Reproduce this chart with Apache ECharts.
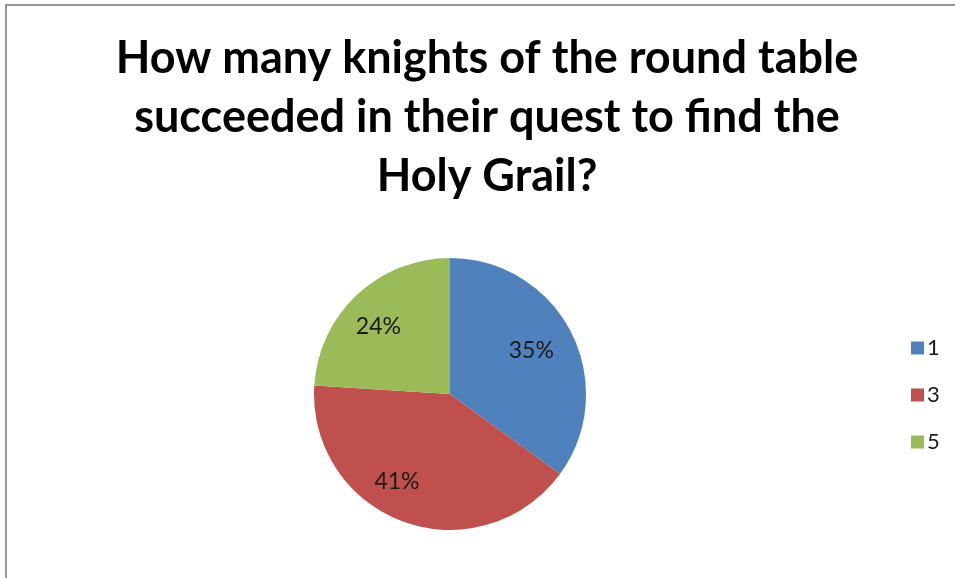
<!DOCTYPE html>
<html><head><meta charset="utf-8">
<script src="https://cdn.jsdelivr.net/npm/echarts@6/dist/echarts.min.js"></script>
<style>html,body{margin:0;padding:0;background:#fff}#c{width:955px;height:578px}</style>
</head><body><div id="c"></div>
<script>
const titleText = "How many knights of the round table\nsucceeded in their quest to find the\nHoly Grail?";
const categories = ["1", "3", "5"];
const values = [35, 41, 24];
const colors = ["#4F81BD", "#C0504D", "#9BBB59"];
const labelShift = [[18, -11], [-29, 21], [-23, -16]];

const chart = echarts.init(document.getElementById('c'), null, {renderer: 'canvas'});
chart.setOption({
  animation: false,
  backgroundColor: '#fff',
  graphic: [{
    type: 'rect', shape: {x: 6, y: 5, width: 1000, height: 1000},
    style: {fill: 'none', stroke: '#969696', lineWidth: 2}, silent: true
  }],
  title: {
    text: titleText, left: 482, top: 24, textAlign: 'center',
    textStyle: {fontFamily: 'Lato', fontWeight: 'bold', fontSize: 45, lineHeight: 59, color: '#000'}
  },
  legend: {
    orient: 'vertical', left: 906, top: 332, itemWidth: 13, itemHeight: 13, itemGap: 25,
    icon: 'rect', data: categories,
    textStyle: {fontFamily: 'Lato', fontSize: 22, color: '#1a1a1a', padding: [0, 0, 0, -2]}
  },
  series: [{
    type: 'pie', center: [450, 394], radius: 136, startAngle: 90, clockwise: true,
    data: categories.map((c, i) => ({name: c, value: values[i], itemStyle: {color: colors[i]}})),
    label: {show: true, position: 'inside', formatter: '{d}%', fontFamily: 'Lato', fontSize: 23, color: '#1a1a1a'},
    labelLayout: p => ({dx: labelShift[p.dataIndex][0], dy: labelShift[p.dataIndex][1]}),
    itemStyle: {borderWidth: 0},
    emphasis: {disabled: true}
  }]
});
</script></body></html>
